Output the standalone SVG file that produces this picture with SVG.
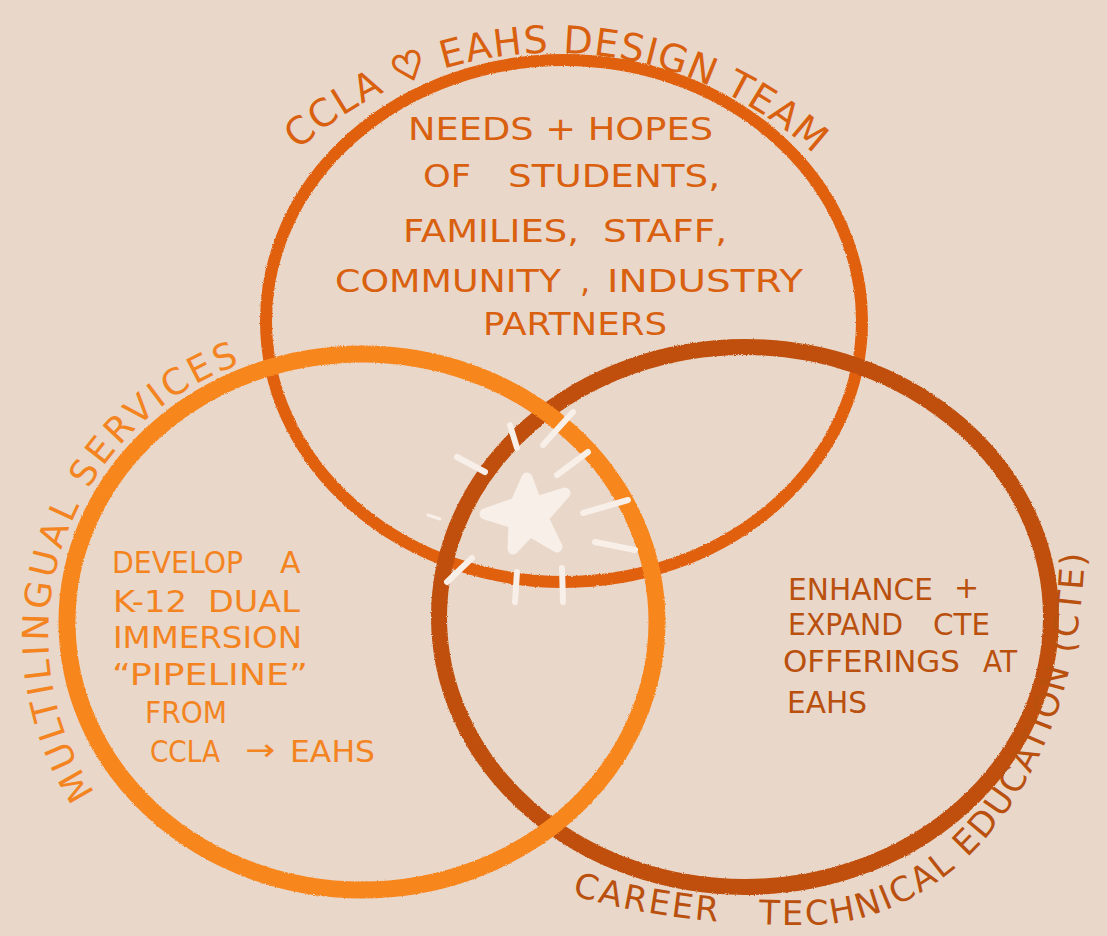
<svg xmlns="http://www.w3.org/2000/svg" width="1107" height="936" viewBox="0 0 1107 936">
<defs>
<filter id="rough" x="-5%" y="-5%" width="110%" height="110%">
<feTurbulence type="fractalNoise" baseFrequency="0.9" numOctaves="2" seed="3" result="n"/>
<feDisplacementMap in="SourceGraphic" in2="n" scale="2.5" xChannelSelector="R" yChannelSelector="G"/>
</filter>
<path id="arcTop" d="M 298 150 A 385 385 0 0 1 818 158"/>
<path id="arcLeft" d="M 95 793 A 288 288 0 0 1 247 362"/>
<path id="arcRight" d="M 572 895 C 640 915, 720 926, 810 925 C 950 923, 1084 780, 1085 535"/>
</defs>
<style>
.t{font-family:"DejaVu Sans","Liberation Sans",sans-serif;font-size:32px}
.lab{font-family:"DejaVu Sans","Liberation Sans",sans-serif;font-size:36px}
.ct{fill:#d9600e}
.cl{fill:#f3841f}
.cr{fill:#b9500d}
.ring{fill:none}
.dash{stroke:#f7efe8;stroke-width:6;stroke-linecap:round}
</style>
<rect width="1107" height="936" fill="#e9d7ca"/>
<g id="connectors"/>
<g filter="url(#rough)">
<g id="circle-design-team">
<ellipse class="ring" cx="564" cy="321" rx="298" ry="261" stroke="#e0600f" stroke-width="12"/>
</g>
<g id="circle-cte">
<ellipse class="ring" cx="745" cy="617" rx="306" ry="270" stroke="#c04f0b" stroke-width="16"/>
</g>
<g id="circle-multilingual">
<ellipse class="ring" cx="362" cy="622" rx="295" ry="268" stroke="#f7861f" stroke-width="17"/>
</g>
</g>
<g id="label-design-team">
<text class="lab ct" style="font-size:38px"><textPath href="#arcTop" textLength="565" lengthAdjust="spacing">CCLA <tspan stroke="#d9600e" stroke-width="2">♡</tspan> EAHS DESIGN TEAM</textPath></text>
</g>
<g id="label-multilingual">
<text class="lab cl"><textPath href="#arcLeft" textLength="520" lengthAdjust="spacing">MULTILINGUAL SERVICES</textPath></text>
</g>
<g id="label-cte">
<text class="lab cr" style="font-size:34px"><textPath href="#arcRight" textLength="750" lengthAdjust="spacing">CAREER&#160;&#160; TECHNICAL EDUCATION (CTE)</textPath></text>
</g>
<g id="text-needs" class="t ct">
<text x="408" y="140" textLength="305" lengthAdjust="spacingAndGlyphs">NEEDS + HOPES</text>
<text x="423" y="187" textLength="48" lengthAdjust="spacingAndGlyphs">OF</text>
<text x="508" y="187" textLength="212" lengthAdjust="spacingAndGlyphs">STUDENTS,</text>
<text x="403" y="242" textLength="176" lengthAdjust="spacingAndGlyphs">FAMILIES,</text>
<text x="603" y="242" textLength="124" lengthAdjust="spacingAndGlyphs">STAFF,</text>
<text x="335" y="292" textLength="226" lengthAdjust="spacingAndGlyphs">COMMUNITY</text>
<text x="580" y="292">,</text>
<text x="607" y="292" textLength="196" lengthAdjust="spacingAndGlyphs">INDUSTRY</text>
<text x="483" y="335" textLength="184" lengthAdjust="spacingAndGlyphs">PARTNERS</text>
</g>
<g id="text-develop" class="t cl" style="font-size:30px">
<text x="112" y="573" textLength="131" lengthAdjust="spacingAndGlyphs">DEVELOP</text>
<text x="280" y="573">A</text>
<text x="113" y="612" textLength="74" lengthAdjust="spacingAndGlyphs">K-12</text>
<text x="208" y="612" textLength="92" lengthAdjust="spacingAndGlyphs">DUAL</text>
<text x="113" y="648" textLength="189" lengthAdjust="spacingAndGlyphs">IMMERSION</text>
<text x="112" y="685" textLength="196" lengthAdjust="spacingAndGlyphs">“PIPELINE”</text>
<text x="145" y="723" textLength="82" lengthAdjust="spacingAndGlyphs">FROM</text>
<text x="150" y="762" textLength="70" lengthAdjust="spacingAndGlyphs">CCLA</text>
<text x="245" y="760" textLength="30" lengthAdjust="spacingAndGlyphs">→</text>
<text x="290" y="762" textLength="85" lengthAdjust="spacingAndGlyphs">EAHS</text>
</g>
<g id="text-enhance" class="t cr" style="font-size:30px">
<text x="788" y="600" textLength="145" lengthAdjust="spacingAndGlyphs">ENHANCE</text>
<text x="954" y="598">+</text>
<text x="788" y="635" textLength="115" lengthAdjust="spacingAndGlyphs">EXPAND</text>
<text x="933" y="635" textLength="57" lengthAdjust="spacingAndGlyphs">CTE</text>
<text x="783" y="672" textLength="177" lengthAdjust="spacingAndGlyphs">OFFERINGS</text>
<text x="983" y="672" textLength="34" lengthAdjust="spacingAndGlyphs">AT</text>
<text x="787" y="713" textLength="80" lengthAdjust="spacingAndGlyphs">EAHS</text>
</g>
<g id="sparkle">
<polygon points="527,478 536,502 565,493 543,518 557,547 530,531 513,549 514,523 485,514 516,503" fill="#f7efe8" stroke="#f7efe8" stroke-width="11" stroke-linejoin="round"/>
<line class="dash" x1="510" y1="425" x2="517" y2="448"/>
<line class="dash" x1="543" y1="445" x2="573" y2="412"/>
<line class="dash" x1="457" y1="457" x2="485" y2="472"/>
<line class="dash" x1="557" y1="475" x2="588" y2="452"/>
<line class="dash" x1="583" y1="513" x2="628" y2="500"/>
<line class="dash" x1="428" y1="515" x2="440" y2="519" style="stroke-width:3"/>
<line class="dash" x1="595" y1="542" x2="635" y2="550"/>
<line class="dash" x1="447" y1="582" x2="472" y2="558"/>
<line class="dash" x1="517" y1="572" x2="515" y2="602"/>
<line class="dash" x1="562" y1="568" x2="563" y2="602"/>
</g>
</svg>
